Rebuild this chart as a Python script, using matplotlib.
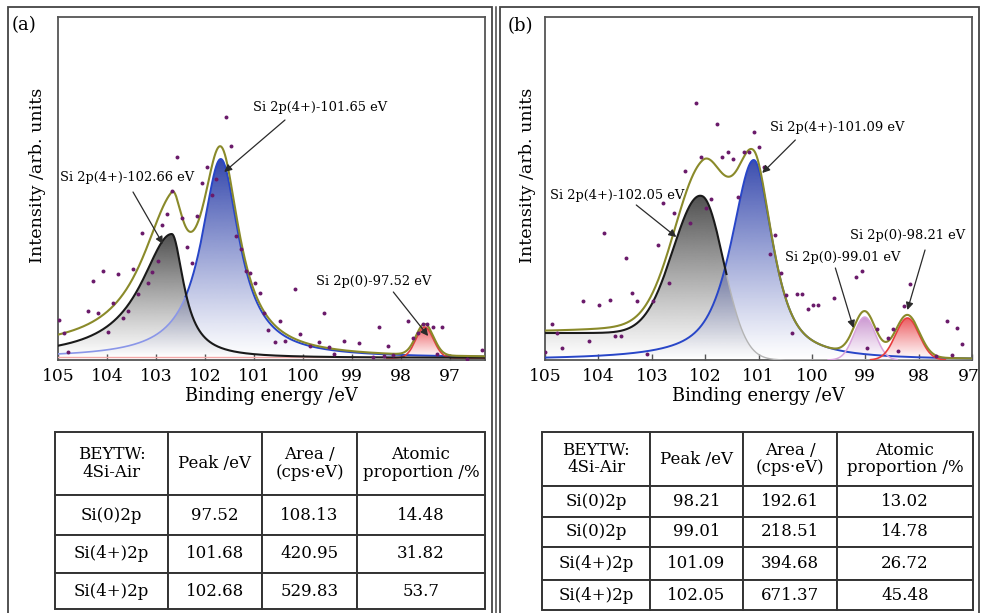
import numpy as np
import matplotlib
matplotlib.use("Agg")
import matplotlib.pyplot as plt
from matplotlib.colors import to_rgb
from matplotlib.patches import Rectangle
from matplotlib.lines import Line2D
from matplotlib.transforms import ScaledTranslation

plt.rcParams['font.family'] = ['DejaVu Serif']

# ---------------- data: panel (a) ----------------
a_x = [104.98, 104.87, 104.79, 104.38, 104.28, 104.18, 104.08, 103.97, 103.87, 103.78,
       103.67, 103.58, 103.48, 103.37, 103.28, 103.17, 103.08, 102.97, 102.87, 102.78,
       102.67, 102.57, 102.48, 102.37, 102.27, 102.17, 102.07, 101.97, 101.86, 101.78,
       101.57, 101.47, 101.37, 101.27, 101.17, 101.08, 100.98, 100.88, 100.79, 100.71,
       100.57, 100.47, 100.37, 100.16, 100.06, 99.86, 99.67, 99.57, 99.47, 99.37,
       99.16, 98.87, 98.57, 98.46, 98.36, 98.26, 98.16, 97.86, 97.76, 97.66,
       97.56, 97.48, 97.36, 97.26, 97.16, 96.66, 96.35]
a_y = [40, 27, 8, 49, 79, 47, 89, 28, 57, 86,
       42, 49, 91, 66, 127, 77, 88, 99, 135, 146,
       169, 203, 142, 113, 97, 144, 177, 193, 165, 181,
       243, 214, 124, 111, 89, 87, 77, 67, 47, 30,
       18, 39, 19, 71, 26, 14, 18, 47, 13, 6,
       19, 17, 3, 33, 4, 14, 5, 39, 22, 27,
       36, 36, 33, 6, 33, 1, 10]
# fitted components (a): Si4+ 102.68, Si4+ 101.68, Si0 97.52
a_center = [102.68, 101.68, 97.52]
a_height = [124, 199, 31]
a_hw_left = [0.77, 0.48, 0.21]
a_hw_right = [0.30, 0.46, 0.21]
a_lorentz = [1.0, 1.0, 0.0]
a_baseline = 2
a_shirley = 7

# ---------------- data: panel (b) ----------------
b_x = [105.00, 104.87, 104.78, 104.69, 104.28, 104.17, 103.98, 103.89, 103.78, 103.68,
       103.58, 103.48, 103.37, 103.28, 103.08, 102.97, 102.88, 102.78, 102.68, 102.58,
       102.37, 102.28, 102.18, 102.07, 101.98, 101.89, 101.78, 101.68, 101.58, 101.48,
       101.38, 101.28, 101.18, 101.08, 100.99, 100.89, 100.78, 100.69, 100.58, 100.48,
       100.38, 100.28, 100.18, 100.08, 99.97, 99.88, 99.58, 99.17, 99.07, 98.97,
       98.78, 98.57, 98.48, 98.38, 98.28, 98.17, 97.68, 97.47, 97.37, 97.28, 97.18]
b_y = [8, 36, 27, 12, 59, 19, 55, 127, 60, 24,
       24, 102, 67, 59, 6, 59, 115, 157, 77, 147,
       189, 137, 257, 203, 152, 161, 236, 203, 208, 201,
       163, 208, 208, 228, 213, 193, 106, 125, 87, 65,
       27, 66, 66, 51, 55, 55, 62, 83, 89, 12,
       31, 22, 31, 9, 54, 76, 4, 39, 5, 32, 16]
# fitted components (b): Si4+ 102.05, Si4+ 101.09, Si0 99.01, Si0 98.21
b_center = [102.05, 101.09, 99.01, 98.21]
b_height = [152, 200, 43, 42]
b_hw_left = [0.62, 0.50, 0.235, 0.26]
b_hw_right = [0.48, 0.42, 0.235, 0.26]
b_lorentz = [0.0, 0.75, 0.0, 0.0]
b_shirley = 27

# ---------------- tick / label / table text ----------------
xticks = [105, 104, 103, 102, 101, 100, 99, 98, 97]
a_labels = ["Si 2p(4+)-102.66 eV", "Si 2p(4+)-101.65 eV", "Si 2p(0)-97.52 eV"]
b_labels = ["Si 2p(4+)-102.05 eV", "Si 2p(4+)-101.09 eV", "Si 2p(0)-99.01 eV", "Si 2p(0)-98.21 eV"]
table_header = ["BEYTW:\n4Si-Air", "Peak /eV", "Area /\n(cps\u00b7eV)", "Atomic\nproportion /%"]
a_rows = [["Si(0)2p", "97.52", "108.13", "14.48"],
          ["Si(4+)2p", "101.68", "420.95", "31.82"],
          ["Si(4+)2p", "102.68", "529.83", "53.7"]]
b_rows = [["Si(0)2p", "98.21", "192.61", "13.02"],
          ["Si(0)2p", "99.01", "218.51", "14.78"],
          ["Si(4+)2p", "101.09", "394.68", "26.72"],
          ["Si(4+)2p", "102.05", "671.37", "45.48"]]

W, H = 981, 613
fig = plt.figure(figsize=(W / 100, H / 100), dpi=100)


def fbox(x0, y0, x1, y1):
    return [x0 / W, 1 - y1 / H, (x1 - x0) / W, (y1 - y0) / H]


def profile(x, c, h, wl, wr, eta):
    w = np.where(x > c, wl, wr)
    u = (x - c) / w
    return h * (eta / (1 + u ** 2) + (1 - eta) * np.exp(-np.log(2) * u ** 2))


def shirley(x, s, k):
    cum = np.concatenate([[0], np.cumsum(0.5 * (s[1:] + s[:-1]) * np.diff(x))])
    return k * cum / cum[-1]


def grad_fill(ax, x, y, y0, color, amax, z):
    poly = ax.fill_between(x, y0, y, color='none', lw=0)
    n = 256
    rgba = np.zeros((n, 1, 4))
    rgba[..., :3] = to_rgb(color)
    rgba[..., 3] = (np.linspace(0, 1, n) ** 1.1 * amax)[:, None]
    im = ax.imshow(rgba, extent=[x.min(), x.max(), y0, y.max()], origin='lower',
                   aspect='auto', zorder=z, interpolation='bilinear')
    im.set_clip_path(poly.get_paths()[0], transform=ax.transData)


def style_axes(ax, xlim):
    ax.set_xlim(*xlim)
    ax.set_ylim(0, 343)
    ax.set_xticks(xticks)
    ax.set_xticklabels([str(t) for t in xticks])
    ax.set_yticks([])
    ax.tick_params(axis='x', direction='in', length=4, width=1, color='#555555',
                   labelsize=12.3, pad=6)
    for sp in ax.spines.values():
        sp.set_color('#555555')
        sp.set_linewidth(1.3)
    ax.set_xlabel("Binding energy /eV", fontsize=12.8, labelpad=1)


OLIVE = '#8a8a2a'
DOT = '#6a1a6a'
ARROW = dict(arrowstyle='-|>', color='#2a2a2a', lw=0.9, mutation_scale=11, shrinkA=0, shrinkB=0)
ANN = 9.4

# ================= panel (a) =================
axa = fig.add_axes(fbox(58, 17, 485, 360))
xa = np.linspace(96.29, 105.0, 1500)
pa = [profile(xa, a_center[i], a_height[i], a_hw_left[i], a_hw_right[i], a_lorentz[i]) for i in range(3)]
bga = a_baseline + shirley(xa, pa[0] + pa[1] + pa[2], a_shirley)
env_a = bga + pa[0] + pa[1] + pa[2]
blk_a = a_baseline + pa[0]
blu_a = a_baseline + pa[1]
red_a = a_baseline + pa[2]

grad_fill(axa, xa, blk_a, a_baseline, '#3c3c3c', 0.9, 1)
grad_fill(axa, xa, blu_a, a_baseline, '#2a3ea8', 0.95, 2)
m = xa < 98.3
grad_fill(axa, xa[m], red_a[m], a_baseline, '#e8343a', 0.8, 2)

axa.plot([105, 97.9], [a_baseline + 1.5, a_baseline + 1.5], color='#f2a8a8', lw=1.0, zorder=3)
light = xa > 102.4
axa.plot(xa[light], blu_a[light], color='#8a96e8', lw=1.2, zorder=3)
axa.plot(xa[~light], blu_a[~light], color='#2846c8', lw=1.4, zorder=3)
axa.plot(xa[m], red_a[m], color='#e04040', lw=1.2, zorder=3)
axa.plot(xa, blk_a, color='#1a1a1a', lw=1.5, zorder=4)
axa.plot(xa, env_a, color=OLIVE, lw=1.5, zorder=5)
axa.scatter(a_x, a_y, s=8, color=DOT, zorder=6, lw=0)

axa.text(104.96, 182, a_labels[0], fontsize=ANN, ha='left', va='center', zorder=7)
axa.annotate('', xy=(102.86, 116), xytext=(103.47, 168), arrowprops=ARROW, zorder=7)
axa.text(101.02, 253, a_labels[1], fontsize=ANN, ha='left', va='center', zorder=7)
axa.annotate('', xy=(101.61, 188), xytext=(100.37, 240), arrowprops=ARROW, zorder=7)
axa.text(99.73, 78, a_labels[2], fontsize=ANN, ha='left', va='center', zorder=7)
axa.annotate('', xy=(97.45, 24), xytext=(98.16, 68), arrowprops=ARROW, zorder=7)
style_axes(axa, (105.0, 96.29))

# ================= panel (b) =================
axb = fig.add_axes(fbox(545, 17, 972, 360))
xb = np.linspace(97.0, 105.0, 1500)
pb = [profile(xb, b_center[i], b_height[i], b_hw_left[i], b_hw_right[i], b_lorentz[i]) for i in range(4)]
bgb = shirley(xb, pb[0], b_shirley)
blk_b = bgb + pb[0]
env_b = blk_b + pb[1] + pb[2] + pb[3]

grad_fill(axb, xb, blk_b, 0, '#3c3c3c', 0.9, 1)
grad_fill(axb, xb, pb[1], 0, '#2a3ea8', 0.92, 2)
mp = (xb > 98.4) & (xb < 99.7)
grad_fill(axb, xb[mp], pb[2][mp], 0, '#b060b8', 0.65, 2)
mr = (xb > 97.5) & (xb < 98.9)
grad_fill(axb, xb[mr], pb[3][mr], 0, '#e8343a', 0.8, 2)

dark = xb >= 101.6
axb.plot(xb[dark], blk_b[dark], color='#1a1a1a', lw=1.5, zorder=4)
axb.plot(xb[~dark], blk_b[~dark], color='#b4b4b4', lw=1.0, zorder=3)
axb.plot(xb, pb[1], color='#2846c8', lw=1.4, zorder=3)
axb.plot(xb[mp], pb[2][mp], color='#d8a4dc', lw=1.1, zorder=3)
axb.plot(xb[mr], pb[3][mr], color='#e83c3c', lw=1.2, zorder=3)
axb.plot(xb, env_b, color=OLIVE, lw=1.5, zorder=5)
axb.scatter(b_x, b_y, s=8, color=DOT, zorder=6, lw=0)

axb.text(104.91, 165, b_labels[0], fontsize=ANN, ha='left', va='center', zorder=7)
axb.annotate('', xy=(102.54, 123), xytext=(103.29, 155), arrowprops=ARROW, zorder=7)
axb.text(100.78, 232, b_labels[1], fontsize=ANN, ha='left', va='center', zorder=7)
axb.annotate('', xy=(100.93, 187), xytext=(100.31, 220), arrowprops=ARROW, zorder=7)
axb.text(100.50, 102, b_labels[2], fontsize=ANN, ha='left', va='center', zorder=7)
axb.annotate('', xy=(99.22, 32), xytext=(99.56, 92), arrowprops=ARROW, zorder=7)
axb.text(99.28, 125, b_labels[3], fontsize=ANN, ha='left', va='center', zorder=7)
axb.annotate('', xy=(98.21, 50), xytext=(97.88, 110), arrowprops=ARROW, zorder=7)
style_axes(axb, (105.0, 97.0))
# keep the last tick label ("97") inside the figure, as in the reference
lab97 = axb.get_xticklabels()[-1]
lab97.set_horizontalalignment('right')
lab97.set_transform(lab97.get_transform() + ScaledTranslation(8 / 100, 0, fig.dpi_scale_trans))

# y labels and panel tags
fig.text(38 / W, 1 - 175 / H, "Intensity /arb. units", rotation=90, ha='center', va='center', fontsize=12.6)
fig.text(527 / W, 1 - 175 / H, "Intensity /arb. units", rotation=90, ha='center', va='center', fontsize=12.6)
fig.text(12 / W, 1 - 25 / H, "(a)", ha='left', va='center', fontsize=13)
fig.text(508 / W, 1 - 26 / H, "(b)", ha='left', va='center', fontsize=13)


# ================= tables =================
def make_table(box, rows, colw, rowh):
    ax = fig.add_axes(fbox(*box))
    ax.axis('off')
    tab = ax.table(cellText=rows, colLabels=table_header, colWidths=colw,
                   cellLoc='center', bbox=[0, 0, 1, 1])
    tab.auto_set_font_size(False)
    tab.set_fontsize(12)
    for (r, c), cell in tab.get_celld().items():
        cell.set_height(rowh[r])
        cell.set_edgecolor('#333333')
        cell.set_linewidth(1.4)
        cell.get_text().set_linespacing(1.05)
        cell.get_text().set_fontfamily('DejaVu Serif')
    return tab


make_table((55, 432, 485, 609), a_rows, [113, 94, 95, 128], [63, 40, 38, 36])
make_table((542, 432, 973, 610), b_rows, [108, 93, 94, 136], [54, 31, 30, 33, 30])

# ================= panel frames =================
fr = dict(transform=fig.transFigure, fill=False, ec='#444444', lw=1.3)
fig.add_artist(Rectangle((8 / W, -0.01), (492.5 - 8) / W, 1.01 - 7 / H, **fr))
fig.add_artist(Rectangle((500 / W, -0.01), (979 - 500) / W, 1.01 - 7 / H, **fr))
fig.add_artist(Line2D([495.5 / W, 495.5 / W], [-0.01, 1 - 7 / H], transform=fig.transFigure,
                      color='#444444', lw=1.1))

fig.savefig("out.png", dpi=100)
